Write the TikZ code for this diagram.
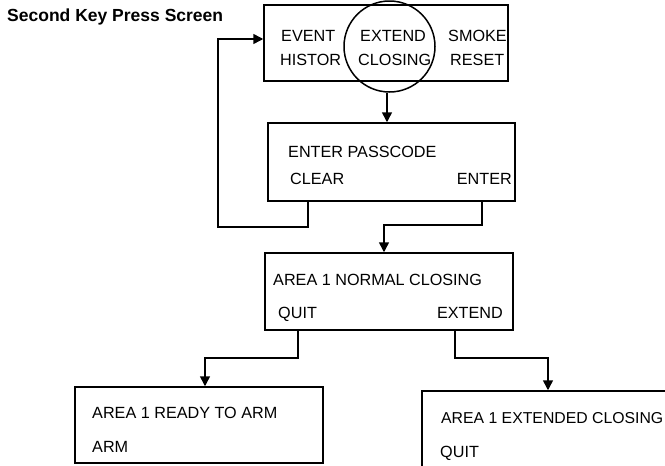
\documentclass[tikz,border=0pt]{standalone}
\usepackage{fontspec}
\setmainfont{Liberation Sans}
\usetikzlibrary{arrows.meta,calc}
\tikzset{
  screen/.style={draw,line width=1.5pt,rectangle,inner sep=0pt},
  lbl/.style={inner sep=0pt,font=\fontsize{16.2}{19}\selectfont},
  arr/.style={line width=1.5pt,-{Triangle[width=10pt,length=10pt]}},
  ln/.style={line width=1.5pt}
}
\begin{document}
\begin{tikzpicture}[x=1pt,y=-1pt]
\useasboundingbox (0,0) rectangle (665,466);
\clip (0,0) rectangle (665,466);
\node[inner sep=0pt,anchor=base west,font=\fontsize{17.5}{20}\selectfont\bfseries] (title) at (7,21.7) {Second Key Press Screen};
% screens
\node[screen,minimum width=244pt,minimum height=76pt] (b1) at (386,43) {};
\node[draw,line width=1.5pt,circle,minimum size=91pt,inner sep=0pt] (circ) at (389.5,46.5) {};
\node[screen,minimum width=247pt,minimum height=78pt] (b2) at (391.5,162) {};
\node[screen,minimum width=248pt,minimum height=77pt] (b3) at (389,291.5) {};
\node[screen,minimum width=248pt,minimum height=76pt] (b4) at (199,425) {};
\node[screen,minimum width=248pt,minimum height=76pt] (b5) at (546,429) {};
% texts
\node[lbl,anchor=base west] (t1) at (281,41) {EVENT};
\node[lbl,anchor=base west] (t2) at (280,65) {HISTOR};
\node[lbl,anchor=base west] (t3) at (360,41) {EXTEND};
\node[lbl,anchor=base west] (t4) at (358,65) {CLOSING};
\node[lbl,anchor=base west] (t5) at (448,41) {SMOKE};
\node[lbl,anchor=base west] (t6) at (450,65) {RESET};
\node[lbl,anchor=base west] (t7) at (288,157) {ENTER PASSCODE};
\node[lbl,anchor=base west] (t8) at (290,184) {CLEAR};
\node[lbl,anchor=base east] (t9) at (512,184) {ENTER};
\node[lbl,anchor=base west] (t10) at (273,285) {AREA 1 NORMAL CLOSING};
\node[lbl,anchor=base west] (t11) at (278,318) {QUIT};
\node[lbl,anchor=base east] (t12) at (503,318) {EXTEND};
\node[lbl,anchor=base west] (t13) at (92,418) {AREA 1 READY TO ARM};
\node[lbl,anchor=base west] (t14) at (92,452) {ARM};
\node[inner sep=0pt,font=\fontsize{15.8}{19}\selectfont,anchor=base east] (t15) at (663.5,423) {AREA 1 EXTENDED CLOSING};
\node[lbl,anchor=base west] (t16) at (440,457) {QUIT};
% connectors
\draw[arr] ([xshift=-2.5pt]circ.south) -- ([xshift=-4.5pt]b2.north);
\draw[arr] ([xshift=-83.5pt]b2.south) |- (218,227) |- ([yshift=4pt]b1.west);
\draw[arr] ([xshift=90.5pt]b2.south) |- (384,225) -- ([xshift=-5pt]b3.north);
\draw[arr] ([xshift=-91pt]b3.south) |- (205,358) -- ([xshift=6pt]b4.north);
\draw[arr] ([xshift=66pt]b3.south) |- (548,358) -- ([xshift=2pt]b5.north);
\end{tikzpicture}
\end{document}
